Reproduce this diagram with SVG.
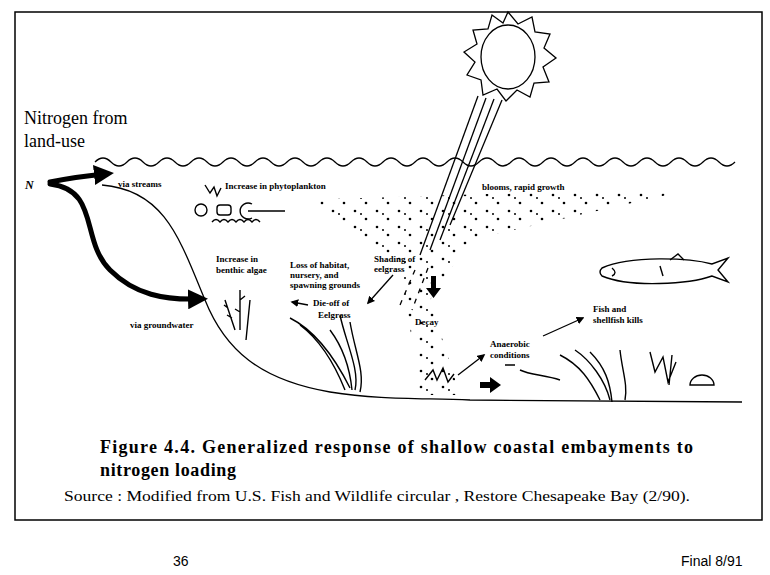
<svg xmlns="http://www.w3.org/2000/svg" width="770" height="575" viewBox="0 0 770 575">
<defs>
<style>
.ln{fill:none;stroke:#000;stroke-width:1.3}
.th{fill:none;stroke:#000;stroke-width:5;stroke-linecap:round}
.s{font-family:"Liberation Serif",serif;fill:#000}
.b{font-family:"Liberation Serif",serif;font-weight:bold;fill:#000}
.t{font-family:"Liberation Serif",serif;font-weight:bold;font-size:9px;fill:#000}
.a{font-family:"Liberation Sans",sans-serif;font-size:14px;fill:#000}
.pl{fill:none;stroke:#000;stroke-width:1.4}
</style>
<marker id="ah" viewBox="0 0 10 10" refX="8" refY="5" markerWidth="6" markerHeight="6" orient="auto"><path d="M0,0 L10,5 L0,10 z" fill="#000"/></marker>
<marker id="ab" viewBox="0 0 10 10" refX="5" refY="5" markerWidth="4" markerHeight="4" orient="auto"><path d="M0,0 L10,5 L0,10 z" fill="#000"/></marker>
<pattern id="dots" width="22" height="16" patternUnits="userSpaceOnUse"><circle cx="3" cy="3" r="1.3"/><circle cx="14" cy="11" r="1.3"/><circle cx="9" cy="6" r="1"/></pattern>
</defs>
<rect width="770" height="575" fill="#fff"/>
<rect x="15" y="12" width="747" height="508" fill="none" stroke="#000" stroke-width="1.5"/>
<g id="sun">
<ellipse cx="508" cy="57" rx="27" ry="32" class="ln" stroke-width="2"/>
<polygon class="ln" stroke-width="1.6" points="508,12 518,24 532,17 535,32 550,34 544,48 556,58 543,67 549,82 534,83 530,97 517,90 506,101 497,89 483,95 481,80 467,75 475,62 464,52 477,44 473,30 488,29 492,15 503,23"/>
</g>
<g id="beams" class="ln" stroke-width="1">
<path d="M478,96 L420,255"/><path d="M486,98 L430,250"/><path d="M494,99 L440,240"/><path d="M502,100 L450,225"/>
<path d="M415,270 L400,305" stroke-dasharray="5,6"/><path d="M428,268 L412,310" stroke-dasharray="5,6"/>
</g>
<g id="water">
<path class="ln" d="M95,162 q8,-8 16,0 t16,0 t16,0 t16,0 t16,0 t16,0 t16,0 t16,0 t16,0 t16,0 t16,0 t16,0 t16,0 t16,0 t16,0 t16,0 t16,0 t16,0 t16,0 t16,0 t16,0 t16,0 t16,0 t16,0 t16,0 t16,0 t16,0 t16,0 t16,0 t16,0 t16,0 t16,0 t16,0 t16,0 t16,0 t16,0 t16,0 t16,0 t16,0 t16,0"/>
<path class="ln" d="M102,185 C165,190 180,240 205,300 C225,350 260,380 330,392 C380,400 420,398 470,400 L742,402"/>
</g>
<g id="phyto">
<path fill="url(#dots)" d="M300,200 L610,190 L680,192 L470,240 L430,300 L460,395 L420,395 L400,260 L340,225 Z"/>
</g>
<g id="plankton" class="pl">
<circle cx="201" cy="210" r="6"/><rect x="217" y="205" width="14" height="10" rx="3"/>
<path d="M252,204 a8,8 0 1,0 0,14 M248,211 L285,211"/>
<path d="M212,222 q4,-5 8,0 q4,-5 8,0 q4,-5 8,0 q4,-5 8,0 q4,-5 8,0 q4,-5 8,0"/>
<path d="M205,185 l5,8 l4,-6 l3,9 l4,-8"/>
</g>
<g id="fish" class="pl">
<path d="M602,268 C630,255 690,258 712,264 L728,258 L718,270 L728,282 L712,276 C690,284 630,288 602,276 Q598,272 602,268 Z"/>
<path d="M612,268 q6,5 0,8"/><path d="M660,266 l3,10"/><path d="M670,260 l8,-6 l6,6"/>
</g>
<g id="plants" class="pl" stroke-width="1.2">
<path d="M225,300 l10,30 M228,308 l-4,-3 M232,318 l-5,-3 M240,290 l0,40 M240,300 l5,-4 M240,312 l-5,-3 M250,300 l-4,40"/>
<path d="M290,318 c20,10 40,30 60,70 M300,325 c20,15 35,40 45,65 M330,330 c15,20 20,40 22,60 M340,315 c5,25 20,55 15,75 M350,322 c5,30 15,50 10,70"/>
<path d="M425,380 l8,-10 l4,10 l6,-12 l5,14 l6,-8"/>
<path d="M560,355 c20,10 30,25 40,45 M575,350 c15,10 30,30 35,50 M590,352 c15,15 20,30 22,50 M620,350 c2,20 8,35 5,50 M650,352 l5,20 l8,-15 l5,25 l8,-20 M672,355 l-3,30"/>
<path d="M520,370 c10,5 25,5 40,10 M505,365 l10,0"/>
<path d="M690,385 a12,10 0 0,1 24,0 z"/>
</g>
<g id="connectors">
<path class="th" d="M50,182 C70,178 85,176 104,174" marker-end="url(#ab)"/>
<path class="th" d="M50,184 C100,190 80,240 110,270 C135,295 165,300 198,299" marker-end="url(#ab)"/>
<path d="M431,276 h5 v12 h5 l-7.5,10 l-7.5,-10 h5 z" fill="#000"/>
<path d="M480,382 h10 v-5 l11,8 l-11,8 v-5 h-10 z" fill="#000"/>
<path class="ln" d="M393,275 L368,303" marker-end="url(#ah)"/>
<path class="ln" d="M308,305 L292,302" marker-end="url(#ah)"/>
<path class="ln" d="M458,375 L484,355" marker-end="url(#ah)"/>
<path class="ln" d="M543,336 L583,318" marker-end="url(#ah)"/>
</g>
<g id="labels">
<text class="s" x="24" y="124" font-size="18">Nitrogen from</text>
<text class="s" x="24" y="147" font-size="18">land-use</text>
<text class="b" x="25" y="189" font-size="12" font-style="italic">N</text>
<text class="t" x="118" y="187" font-size="10">via streams</text>
<text class="t" x="225" y="189">Increase in phytoplankton</text>
<text class="t" x="482" y="190">blooms, rapid growth</text>
<text class="t" x="216" y="262">Increase in</text>
<text class="t" x="216" y="273">benthic algae</text>
<text class="t" x="290" y="268" font-size="7">Loss of habitat,</text>
<text class="t" x="290" y="278" font-size="7">nursery, and</text>
<text class="t" x="290" y="288" font-size="7">spawning grounds</text>
<text class="t" x="313" y="306" font-size="10">Die-off of</text>
<text class="t" x="318" y="318">Eelgrass</text>
<text class="t" x="374" y="262">Shading of</text>
<text class="t" x="374" y="272">eelgrass</text>
<text class="t" x="415" y="325">Decay</text>
<text class="t" x="490" y="347">Anaerobic</text>
<text class="t" x="490" y="358">conditions</text>
<text class="t" x="593" y="312">Fish and</text>
<text class="t" x="593" y="323">shellfish kills</text>
<text class="t" x="130" y="328" font-size="10">via groundwater</text>
<text class="b" x="100" y="453" font-size="18" textLength="593" lengthAdjust="spacing">Figure 4.4. Generalized response of shallow coastal embayments to</text>
<text class="b" x="100" y="476" font-size="18" textLength="136" lengthAdjust="spacing">nitrogen loading</text>
<text class="s" x="64" y="501" font-size="15" textLength="626" lengthAdjust="spacingAndGlyphs">Source : Modified from U.S. Fish and Wildlife circular , Restore Chesapeake Bay (2/90).</text>
<text class="a" x="173" y="566">36</text>
<text class="a" x="681" y="566">Final 8/91</text>
</g>
</svg>
